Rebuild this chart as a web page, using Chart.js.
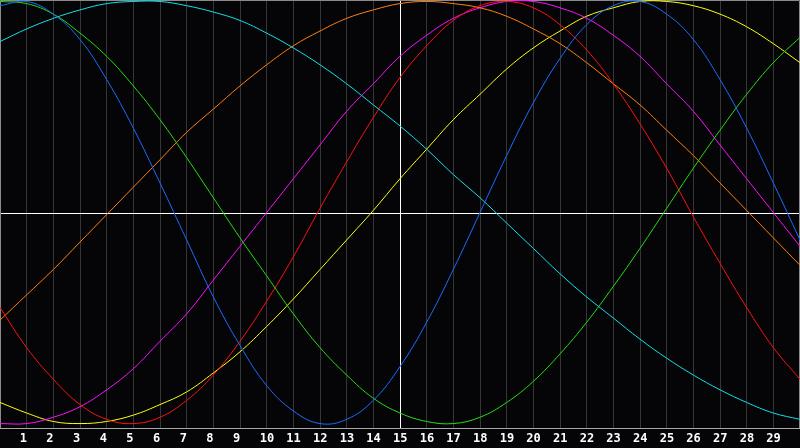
<!DOCTYPE html>
<html>
<head>
<meta charset="utf-8">
<script src="https://cdn.jsdelivr.net/npm/chart.js@4.4.1/dist/chart.umd.min.js"></script>
<style>
html,body{margin:0;padding:0;background:#050508;}
#wrap{width:800px;height:448px;}
canvas{display:block;}
</style>
</head>
<body>
<div id="wrap"><canvas id="c" width="800" height="448"></canvas></div>
<script>
const days = [0,1,2,3,4,5,6,7,8,9,10,11,12,13,14,15,16,17,18,19,20,21,22,23,24,25,26,27,28,29,30];
const dayLabels = ['1','2','3','4','5','6','7','8','9','10','11','12','13','14','15','16','17','18','19','20','21','22','23','24','25','26','27','28','29'];

const blueSeries    = [0.98,1.00,0.94,0.82,0.63,0.40,0.14,-0.13,-0.40,-0.63,-0.82,-0.94,-1.00,-0.98,-0.89,-0.73,-0.52,-0.27,0.00,0.27,0.52,0.73,0.89,0.98,1.00,0.94,0.82,0.63,0.40,0.14,-0.13];
const greenSeries   = [1.00,0.99,0.94,0.85,0.74,0.60,0.44,0.26,0.07,-0.12,-0.30,-0.48,-0.64,-0.77,-0.88,-0.95,-0.99,-1.00,-0.97,-0.90,-0.80,-0.67,-0.52,-0.35,-0.17,0.02,0.21,0.39,0.56,0.71,0.83];
const cyanSeries    = [0.81,0.87,0.92,0.96,0.99,1.00,1.00,0.98,0.95,0.91,0.85,0.78,0.70,0.61,0.51,0.41,0.30,0.18,0.07,-0.05,-0.17,-0.29,-0.40,-0.50,-0.60,-0.69,-0.77,-0.84,-0.90,-0.95,-0.98];
const redSeries     = [-0.45,-0.64,-0.79,-0.91,-0.98,-1.00,-0.97,-0.89,-0.77,-0.61,-0.42,-0.21,0.02,0.24,0.45,0.64,0.79,0.91,0.98,1.00,0.97,0.89,0.77,0.61,0.42,0.21,-0.02,-0.24,-0.45,-0.64,-0.79];
const orangeSeries  = [-0.51,-0.39,-0.27,-0.14,-0.01,0.12,0.25,0.38,0.49,0.60,0.70,0.79,0.86,0.92,0.96,0.99,1.00,0.99,0.97,0.93,0.87,0.80,0.71,0.61,0.51,0.39,0.27,0.14,0.01,-0.12,-0.25];
const magentaSeries = [-1.00,-1.00,-0.97,-0.92,-0.84,-0.74,-0.61,-0.48,-0.32,-0.16,0.00,0.16,0.32,0.48,0.61,0.74,0.84,0.92,0.97,1.00,1.00,0.97,0.92,0.84,0.74,0.61,0.48,0.32,0.16,0.00,-0.16];
const yellowSeries  = [-0.90,-0.95,-0.99,-1.00,-0.99,-0.96,-0.91,-0.85,-0.76,-0.66,-0.54,-0.41,-0.27,-0.13,0.01,0.16,0.30,0.44,0.56,0.68,0.78,0.86,0.93,0.97,1.00,1.00,0.98,0.94,0.88,0.80,0.71];

const centerDay = 15;

function pts(arr){ return arr.map((v,i)=>({x:days[i], y:v})); }
function ds(arr, color){
  return {data: pts(arr), borderColor: color, borderWidth: 1, pointRadius: 0, tension: 0.4, fill: false};
}

const framePlugin = {
  id: 'frame',
  beforeDraw(chart){
    const ctx = chart.ctx;
    ctx.save();
    ctx.fillStyle = '#050508';
    ctx.fillRect(0,0,chart.width,chart.height);
    ctx.restore();
  },
  beforeDatasetsDraw(chart){
    const ctx = chart.ctx, a = chart.chartArea;
    const xs = chart.scales.x, ys = chart.scales.y;
    ctx.save();
    ctx.lineWidth = 1;
    ctx.strokeStyle = '#ffffff';
    const cx = Math.round(xs.getPixelForValue(centerDay)) + 0.5;
    ctx.beginPath(); ctx.moveTo(cx, a.top); ctx.lineTo(cx, a.bottom); ctx.stroke();
    const cy = Math.round(ys.getPixelForValue(0)) + 0.5;
    ctx.beginPath(); ctx.moveTo(a.left, cy); ctx.lineTo(a.right, cy); ctx.stroke();
    ctx.strokeStyle = '#8a8a8a';
    ctx.beginPath();
    ctx.moveTo(a.left + 0.5, a.bottom); ctx.lineTo(a.left + 0.5, a.top + 0.5);
    ctx.lineTo(a.right - 0.5, a.top + 0.5); ctx.lineTo(a.right - 0.5, a.bottom);
    ctx.stroke();
    ctx.strokeStyle = '#a8a8a8';
    ctx.beginPath(); ctx.moveTo(a.left, Math.round(a.bottom) + 0.5); ctx.lineTo(a.right, Math.round(a.bottom) + 0.5); ctx.stroke();
    ctx.restore();
  }
};

new Chart(document.getElementById('c'), {
  type: 'line',
  data: {
    datasets: [
      ds(blueSeries, '#1a6cff'),
      ds(greenSeries, '#22e010'),
      ds(cyanSeries, '#10e0e8'),
      ds(redSeries, '#ff1010'),
      ds(orangeSeries, '#ff8010'),
      ds(magentaSeries, '#ff10ff'),
      ds(yellowSeries, '#ffff10')
    ]
  },
  options: {
    responsive: false,
    devicePixelRatio: 1,
    animation: false,
    layout: {autoPadding: false, padding: 0},
    plugins: {legend: {display: false}, tooltip: {enabled: false}},
    scales: {
      x: {
        type: 'linear', min: 0, max: 30,
        border: {display: false},
        grid: {color: '#363636', lineWidth: 1, drawTicks: false},
        ticks: {
          stepSize: 1, autoSkip: false, maxRotation: 0, padding: 3.8,
          align: 'start', labelOffset: -7,
          color: '#ffffff',
          font: {family: 'DejaVu Sans Mono', weight: 'bold', size: 12},
          callback: (v) => (v >= 1 && v <= 29) ? dayLabels[v - 1] : ''
        },
        afterFit(scale){ scale.paddingLeft = 0; scale.paddingRight = 0; scale.height = 20; }
      },
      y: {
        display: false, min: -1.021, max: 1.007
      }
    }
  },
  plugins: [framePlugin]
});
</script>
</body>
</html>
